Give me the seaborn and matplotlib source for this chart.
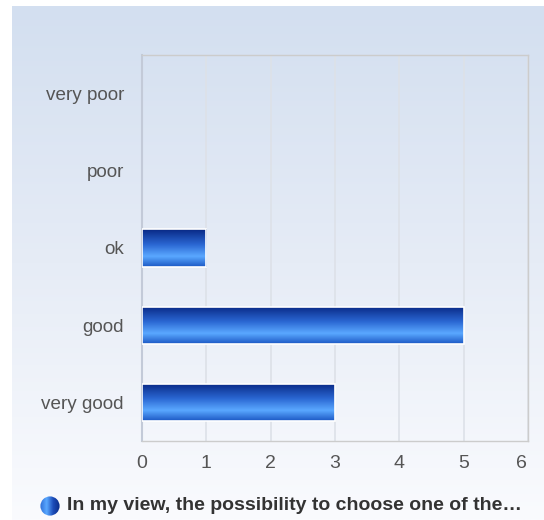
import numpy as np
import pandas as pd
import seaborn as sns
import matplotlib.pyplot as plt
import matplotlib.transforms as mtransforms
from matplotlib.colors import LinearSegmentedColormap
from matplotlib.patches import Circle

sns.set_style("white")
plt.rcParams["font.family"] = ["Liberation Sans", "DejaVu Sans"]

# data
categories = ["very poor", "poor", "ok", "good", "very good"]
counts = [0, 0, 1, 5, 3]
x_ticks = [0, 1, 2, 3, 4, 5, 6]
series_label = "In my view, the possibility to choose one of the\u2026"

df = pd.DataFrame({"category": categories, "count": counts})

fig = plt.figure(figsize=(5.44, 5.2), dpi=100)

# page background gradient
bg = fig.add_axes([12 / 544, 0, 1 - 12 / 544, 514 / 520], zorder=-5)
bg_cmap = LinearSegmentedColormap.from_list("bg", ["#d3dff0", "#e6ecf6", "#fafbfe"])
bg.imshow(np.linspace(0, 1, 256).reshape(-1, 1), aspect="auto", cmap=bg_cmap,
          extent=[0, 1, 0, 1], origin="upper")
bg.axis("off")

ax = fig.add_axes([142 / 544, 79 / 520, 386 / 544, 386 / 520])
ax.patch.set_alpha(0)

sns.barplot(data=df, x="count", y="category", order=categories,
            color="#2a62c8", width=0.48, ax=ax, zorder=3)

bar_cmap = LinearSegmentedColormap.from_list(
    "bar", [(0, "#082884"), (0.4, "#2a66d2"), (0.72, "#5aa8ff"), (1, "#1c58c4")]
)
grad = np.linspace(0, 1, 128).reshape(-1, 1)
for p in ax.patches:
    w = p.get_width()
    if w <= 0:
        p.set_visible(False)
        continue
    x0, y0 = p.get_x(), p.get_y()
    h = p.get_height()
    im = ax.imshow(grad, aspect="auto", cmap=bar_cmap,
                   extent=[x0, x0 + w, y0 + h, y0], origin="upper", zorder=4)
    im.set_clip_path(p)
    p.set_facecolor("none")
    p.set_edgecolor("white")
    p.set_linewidth(1.2)
    p.set_zorder(5)

ax.set_xlim(0, 6)
ax.set_ylim(4.5, -0.5)
ax.set_xticks(x_ticks)
ax.set_xticklabels([str(t) for t in x_ticks])
ax.set_xlabel("")
ax.set_ylabel("")
ax.grid(axis="x", color="#dde1e8", linewidth=1.2, zorder=0)
ax.tick_params(axis="x", length=0, pad=10, labelsize=14, labelcolor="#555555")
ax.tick_params(axis="y", length=0, pad=13, labelsize=13.6, labelcolor="#555555")
for side in ["top", "right", "bottom"]:
    ax.spines[side].set_color("#cccccc")
    ax.spines[side].set_linewidth(1)
ax.spines["left"].set_color("#c3cad8")
ax.spines["left"].set_linewidth(1.5)

# last x label nudged inside like the original
last = ax.get_xticklabels()[-1]
last.set_transform(last.get_transform() + mtransforms.ScaledTranslation(-7 / 100, 0, fig.dpi_scale_trans))

# legend entry with gradient dot
lax = fig.add_axes([40 / 544, (520 - 516) / 520, 20 / 544, 20 / 520])
lax.set_xlim(0, 1)
lax.set_ylim(0, 1)
lax.axis("off")
dot_cmap = LinearSegmentedColormap.from_list("dot", ["#2f6fd8", "#5aa8ff", "#1c4cb8", "#0a2c88"])
dot = lax.imshow(np.linspace(0, 1, 64).reshape(1, -1), aspect="auto", cmap=dot_cmap,
                 extent=[0, 1, 0, 1])
circ = Circle((0.5, 0.5), 0.48, transform=lax.transData, facecolor="none", edgecolor="none")
lax.add_patch(circ)
dot.set_clip_path(circ)

fig.text(67 / 544, 1 - 506 / 520, series_label, fontsize=14, fontweight="bold",
         color="#333333", va="center", ha="left")

fig.savefig("out.png", dpi=100)
